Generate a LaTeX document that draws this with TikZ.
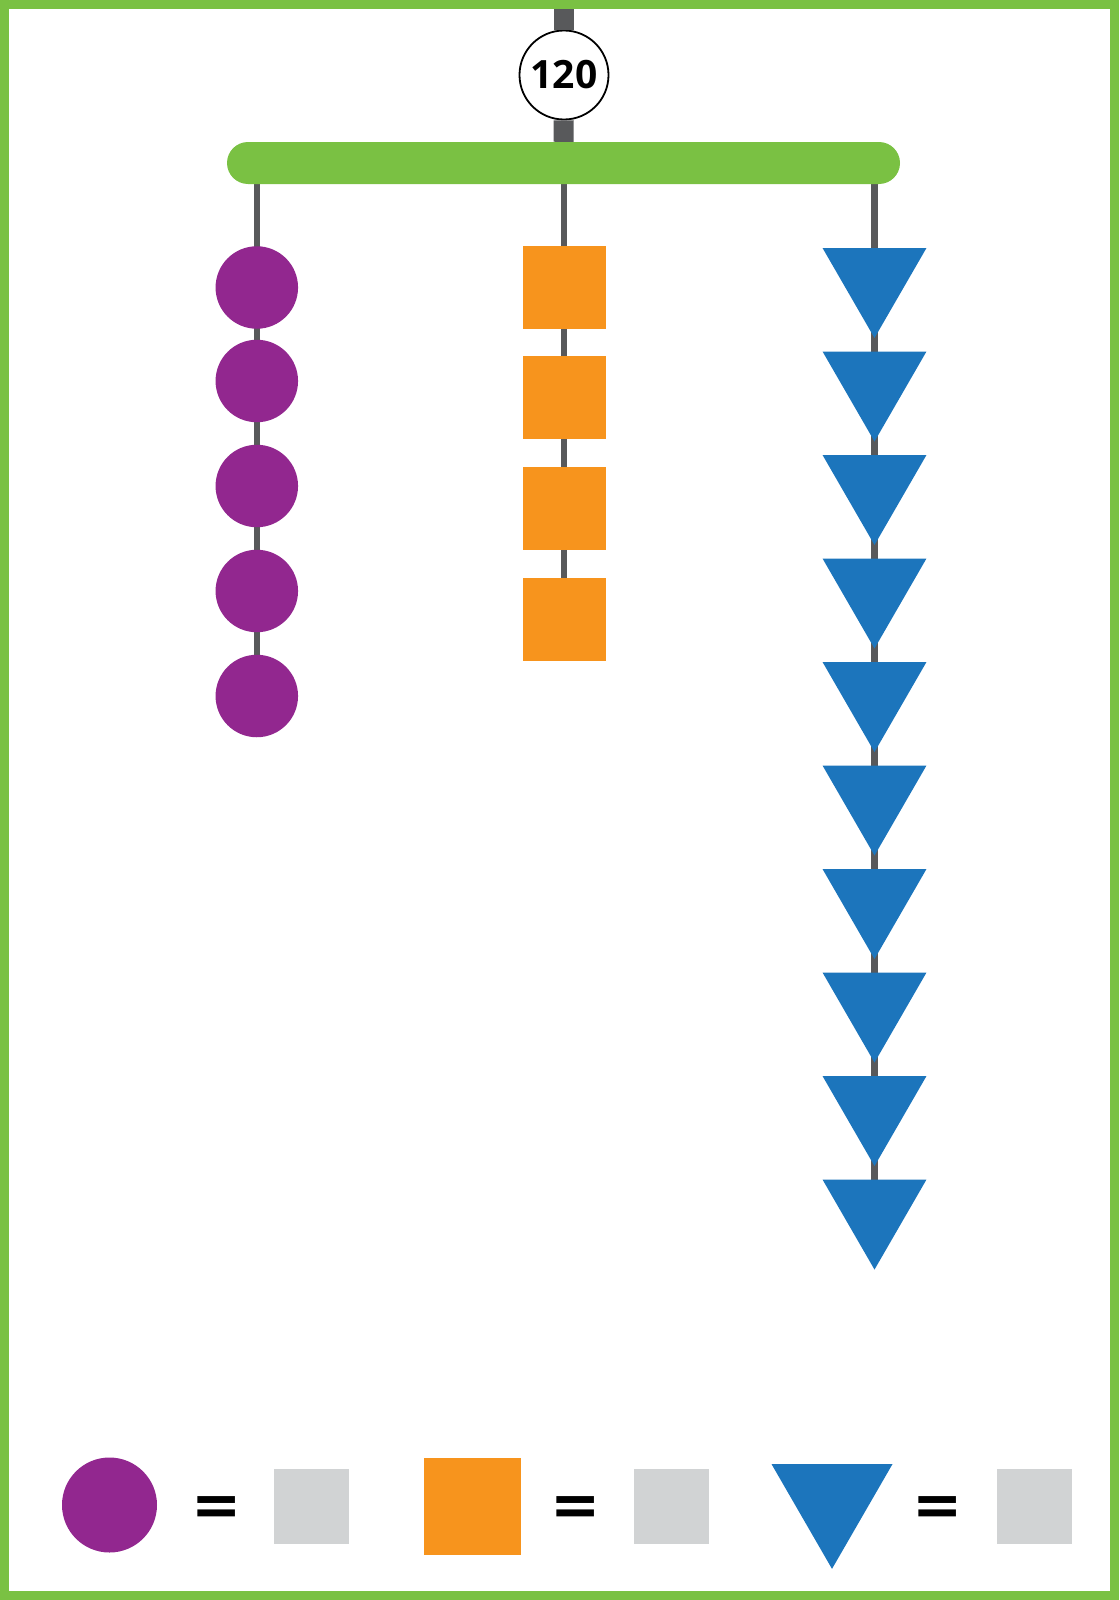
\documentclass[tikz,border=0pt]{standalone}
\usepackage{fontspec}
\setmainfont{Open Sans}
\newfontfamily\eqfont{DejaVu Sans}
\usepackage{tikz}
\usetikzlibrary{positioning,shapes.geometric,backgrounds}

\definecolor{mobilegreen}{HTML}{7AC143}
\definecolor{cordgrey}{HTML}{58595B}
\definecolor{beadpurple}{HTML}{92278F}
\definecolor{tileorange}{HTML}{F7941D}
\definecolor{wedgeblue}{HTML}{1C75BC}
\definecolor{blankgrey}{HTML}{D1D3D4}

\begin{document}
\begin{tikzpicture}[
    x=1pt, y=-1pt,
    rod/.style={line width=20pt, draw=cordgrey},
    cord/.style={line width=6.5pt, draw=cordgrey},
    knob/.style={
      circle,
      draw=black,
      line width=1.8pt,
      fill=white,
      minimum size=89pt,
      inner sep=0pt,
      font=\bfseries\fontsize{39}{39}\selectfont
    },
    crossbar/.style={
      rectangle,
      rounded corners=21pt,
      fill=mobilegreen,
      minimum width=673pt,
      minimum height=42pt,
      inner sep=0pt
    },
    bead/.style={circle, fill=beadpurple, minimum size=82.5pt, inner sep=0pt, outer sep=0pt},
    tile/.style={rectangle, fill=tileorange, minimum size=83pt, inner sep=0pt, outer sep=0pt},
    wedge/.style={
      regular polygon,
      regular polygon sides=3,
      shape border rotate=180,
      fill=wedgeblue,
      minimum size=120pt,
      inner sep=0pt,
      outer sep=0pt
    },
    blank/.style={rectangle, fill=blankgrey, minimum size=75pt, inner sep=0pt},
    equals/.style={inner sep=0pt, font=\eqfont\bfseries\fontsize{60}{60}\selectfont}
  ]
    \useasboundingbox (0,0) rectangle (1119,1600);

    % hanger
    \coordinate (hook) at (564,9);
    \node[knob] (knob) at (564,75) {120};
    \node[crossbar] (bar) at (563.5,163) {};
    \draw[rod] (hook) -- (knob);
    \draw[rod] (knob) -- (bar);

    % left string: circles
    \node[bead] (c1) at (256.8,287.5) {};
    \node[bead, below=11pt of c1] (c2) {};
    \node[bead, below=22.5pt of c2] (c3) {};
    \node[bead, below=22.5pt of c3] (c4) {};
    \node[bead, below=22.5pt of c4] (c5) {};

    % middle string: squares
    \node[tile] (s1) at (564,287.7) {};
    \node[tile, below=26.6pt of s1] (s2) {};
    \node[tile, below=28.3pt of s2] (s3) {};
    \node[tile, below=28.3pt of s3] (s4) {};

    % right string: triangles
    \node[wedge] (t1) at (874.5,278) {};
    \node[wedge, below=13.5pt of t1] (t2) {};
    \node[wedge, below=13.5pt of t2] (t3) {};
    \node[wedge, below=13.5pt of t3] (t4) {};
    \node[wedge, below=13.5pt of t4] (t5) {};
    \node[wedge, below=13.5pt of t5] (t6) {};
    \node[wedge, below=13.5pt of t6] (t7) {};
    \node[wedge, below=13.5pt of t7] (t8) {};
    \node[wedge, below=13.5pt of t8] (t9) {};
    \node[wedge, below=13.5pt of t9] (t10) {};

    % strings behind the shapes
    \begin{scope}[on background layer]
      \draw[cord] (bar.center -| c1) -- (c1.center) -- (c2.center)
        -- (c3.center) -- (c4.center) -- (c5.center);
      \draw[cord] (bar.center -| s1) -- (s1.center) -- (s2.center)
        -- (s3.center) -- (s4.center);
      \draw[cord] (bar.center -| t1) -- (t1.center) -- (t2.center)
        -- (t3.center) -- (t4.center) -- (t5.center) -- (t6.center)
        -- (t7.center) -- (t8.center) -- (t9.center) -- (t10.center);
    \end{scope}

    % key
    \node[bead, minimum size=95pt] (keybead) at (109.5,1505) {};
    \node[equals] (eq1) at (216.5,1511.5) {=};
    \node[blank] (val1) at (311.5,1506) {};
    \node[tile, minimum size=97pt] (keytile) at (472.5,1506) {};
    \node[equals] (eq2) at (576,1511.5) {=};
    \node[blank] (val2) at (671.5,1506) {};
    \node[wedge, minimum size=139.7pt] (keywedge) at (832,1499) {};
    \node[equals] (eq3) at (937.5,1511.5) {=};
    \node[blank] (val3) at (1034,1506) {};

    % frame
    \draw[line width=9pt, draw=mobilegreen] (4.5,4.5) rectangle (1114.5,1595.5);
\end{tikzpicture}
\end{document}
